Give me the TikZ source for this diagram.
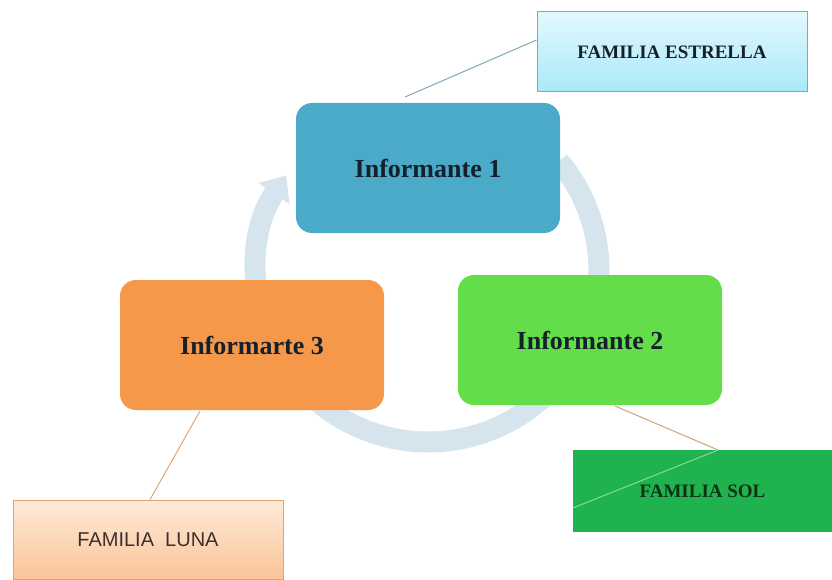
\documentclass[tikz,border=0pt]{standalone}
\usepackage{fontspec}
\setmainfont{Liberation Serif}
\setsansfont{Liberation Sans}
\usetikzlibrary{arrows.meta,calc}
\definecolor{ringc}{HTML}{D5E4ED}
\definecolor{cone}{HTML}{4AAAC8}
\definecolor{ctwo}{HTML}{63DE4A}
\definecolor{cthree}{HTML}{F59849}
\definecolor{csol}{HTML}{20B24E}
\definecolor{esttop}{HTML}{E3F8FD}
\definecolor{estbot}{HTML}{A9E9F9}
\definecolor{estline}{HTML}{7FA8B8}
\definecolor{lunatop}{HTML}{FEEAD8}
\definecolor{lunabot}{HTML}{FBC498}
\definecolor{lunaline}{HTML}{E0A472}
\definecolor{solline}{HTML}{C9A77A}
\definecolor{sollight}{HTML}{86DC98}
\definecolor{txtdark}{HTML}{14202C}
\tikzset{
  mainbox/.style={rounded corners=16pt, minimum width=264pt, minimum height=130pt,
    inner sep=0pt, text=txtdark, font=\fontsize{26}{30}\selectfont\bfseries},
  famserif/.style={inner sep=0pt, font=\fontsize{19}{22}\selectfont\bfseries},
  famsans/.style={inner sep=0pt, font=\sffamily\fontsize{20}{24}\selectfont},
  link/.style={line width=1pt}
}
\begin{document}
\begin{tikzpicture}[x=1pt,y=-1pt]
\useasboundingbox (0,0) rectangle (832,580);
% cycle ring
\coordinate (cc) at (428,271);
\draw[ringc, line width=21pt, -{Triangle[width=36pt,length=22pt]}]
  ($(cc)+(-40:171)$) arc[start angle=-40, end angle=214, radius=171];
% main boxes
\node[mainbox, fill=cone] (inf1) at (428,168) {Informante 1};
\node[mainbox, fill=ctwo] (inf2) at (590,340) {Informante 2};
\node[mainbox, fill=cthree] (inf3) at (252,345) {Informarte 3};
% family boxes
\node[famserif, draw=estline, line width=1pt, top color=esttop, bottom color=estbot,
  minimum width=270pt, minimum height=80pt, text=txtdark] (est) at (672,52) {FAMILIA ESTRELLA};
\node[famserif, fill=csol, minimum width=259pt, minimum height=82pt,
  text={rgb,255:red,12;green,52;blue,20}] (sol) at (702.5,491) {FAMILIA SOL};
\node[famsans, draw=lunaline, line width=0.8pt, top color=lunatop, bottom color=lunabot,
  minimum width=270pt, minimum height=79pt, text={rgb,255:red,60;green,48;blue,44}] (luna) at (148,539.5) {FAMILIA\ \ LUNA};
% connectors
\coordinate (e1) at (405,97);
\draw[link, estline] (e1) -- (est.west |- 0,40);
\coordinate (s1) at (615,406);
\coordinate (s2) at (718,450);
\draw[link, solline] (s1) -- (s2);
\draw[link, sollight] (s2) -- (sol.west |- 0,508);
\coordinate (l1) at (200,411);
\draw[link, lunaline] (l1) -- (luna.north -| 150,0);
\end{tikzpicture}
\end{document}
